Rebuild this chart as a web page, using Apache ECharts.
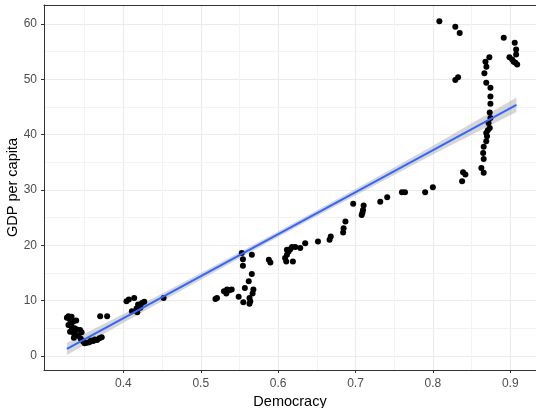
<!DOCTYPE html>
<html>
<head>
<meta charset="utf-8">
<script src="https://cdn.jsdelivr.net/npm/echarts@6/dist/echarts.min.js"></script>
<style>
  html, body { margin: 0; padding: 0; background: #fff; }
  #chart { width: 536px; height: 408px; }
</style>
</head>
<body>
<div id="chart"></div>
<script>
// Democracy index vs GDP per capita (one point per country-year)
const democracy = [
  0.327, 0.329, 0.333, 0.331, 0.335, 0.329, 0.333, 0.337, 0.331, 0.335,
  0.340, 0.344, 0.346, 0.338, 0.342, 0.336, 0.345, 0.348, 0.350, 0.353,
  0.356, 0.358, 0.361, 0.363, 0.366, 0.369, 0.372, 0.370, 0.379, 0.339,
  0.332, 0.336,
  0.404, 0.407, 0.414, 0.411, 0.417, 0.419, 0.424, 0.422, 0.427, 0.421, 0.418, 0.452,
  0.519, 0.521, 0.530, 0.534, 0.537, 0.540, 0.533, 0.549, 0.555, 0.563,
  0.564, 0.563, 0.557, 0.562, 0.566, 0.568, 0.567, 0.553, 0.566, 0.5545,
  0.5545, 0.588, 0.590,
  0.609, 0.6105, 0.6114, 0.6114, 0.6135, 0.6157, 0.6191, 0.6179, 0.6221, 0.6286,
  0.635, 0.6515, 0.6665, 0.668, 0.684, 0.6846, 0.687, 0.697,
  0.708, 0.7097, 0.7105, 0.709, 0.732, 0.741, 0.760, 0.764, 0.790, 0.800,
  0.8084, 0.829, 0.8347, 0.829, 0.8326, 0.839, 0.842, 0.8378,
  0.873, 0.868, 0.8692, 0.8666, 0.869, 0.8744, 0.8744, 0.8744, 0.8735, 0.8744,
  0.872, 0.8735, 0.871, 0.869, 0.870, 0.869, 0.8657, 0.865, 0.8657, 0.8627, 0.8657,
  0.8916, 0.9058, 0.9076, 0.9076, 0.899, 0.9025, 0.9045, 0.9067, 0.909
];
const gdpPerCapita = [
  6.9, 7.2, 7.1, 6.6, 6.2, 5.6, 5.3, 5.0, 4.4, 4.6,
  4.8, 4.7, 4.3, 3.9, 3.6, 3.3, 3.1, 2.6, 2.3, 2.4,
  2.5, 2.8, 2.7, 3.0, 2.9, 3.2, 3.4, 7.2, 7.2, 6.4,
  5.9, 4.1,
  9.9, 10.2, 10.5, 8.1, 8.6, 9.3, 9.6, 8.7, 9.8, 9.1, 7.9, 10.5,
  10.3, 10.5, 11.7, 12.0, 11.9, 12.0, 11.3, 10.7, 9.7, 10.5,
  9.9, 9.45, 12.3, 13.5, 14.8, 12.0, 11.3, 18.6, 18.3, 17.5,
  16.3, 17.4, 16.9,
  17.7, 17.1, 18.3, 19.2, 18.9, 19.3, 17.1, 19.7, 19.7, 19.5,
  20.4, 20.7, 21.0, 21.6, 22.3, 23.1, 24.3, 27.5,
  25.5, 26.4, 27.2, 25.9, 27.9, 28.7, 29.6, 29.6, 29.6, 30.5,
  60.5, 59.5, 58.4, 49.9, 50.4, 33.2, 32.8, 31.6,
  54.0, 53.2, 52.3, 51.1, 49.4, 48.5, 46.9, 45.6, 44.0, 43.0,
  42.1, 41.2, 40.8, 40.3, 39.7, 38.8, 37.8, 36.7, 35.6, 34.0, 33.1,
  57.5, 56.6, 55.4, 54.5, 54.0, 53.6, 53.2, 53.0, 52.7
];

// Linear fit and its 95% confidence band
const fitX = [0.327, 0.908];
const fitY = [1.3, 45.4];
const bandX = [0.327, 0.4, 0.5, 0.6, 0.7, 0.8, 0.908];
const bandLow = [0.2, 6.0, 13.8, 21.5, 29.0, 36.4, 44.1];
const bandHigh = [2.4, 7.6, 15.0, 22.5, 30.2, 38.0, 46.7];

// Tick values
const xMajorTicks = [0.4, 0.5, 0.6, 0.7, 0.8, 0.9];
const xMinorTicks = [0.35, 0.45, 0.55, 0.65, 0.75, 0.85];
const yMajorTicks = [0, 10, 20, 30, 40, 50, 60];
const yMinorTicks = [5, 15, 25, 35, 45, 55];

const X_MIN = 0.2974, X_MAX = 0.9333;
const Y_MIN = -2.53, Y_MAX = 63.44;

const points = democracy.map((d, i) => [d, gdpPerCapita[i]]);
const fitLine = fitX.map((x, i) => [x, fitY[i]]);

const minorLines = xMinorTicks.map(v => ({ xAxis: v }))
  .concat(yMinorTicks.map(v => ({ yAxis: v })));

const labelFont = { color: '#4d4d4d', fontSize: 12, fontFamily: 'Liberation Sans' };
const titleFont = { color: '#000', fontSize: 14.5, fontFamily: 'Liberation Sans' };

const chart = echarts.init(document.getElementById('chart'), null, { renderer: 'canvas' });

chart.setOption({
  animation: false,
  backgroundColor: '#ffffff',
  grid: { left: 44, right: 0, top: 5, bottom: 38, containLabel: false, outerBoundsMode: 'none' },
  xAxis: [
    {
      type: 'value',
      min: X_MIN, max: X_MAX,
      name: 'Democracy',
      nameLocation: 'middle',
      nameGap: 22,
      nameTextStyle: titleFont,
      axisLine: { show: true, onZero: false, lineStyle: { color: '#333', width: 1 } },
      axisTick: { show: true, length: 3, customValues: xMajorTicks, lineStyle: { color: '#333' } },
      axisLabel: Object.assign({ margin: 8, customValues: xMajorTicks, formatter: v => v.toFixed(1) }, labelFont),
      splitLine: { show: true, lineStyle: { color: '#ebebeb', width: 1.2 } }
    },
    {
      type: 'value', position: 'top',
      min: X_MIN, max: X_MAX,
      axisLine: { show: true, onZero: false, lineStyle: { color: '#333', width: 1 } },
      axisTick: { show: false }, axisLabel: { show: false }, splitLine: { show: false }
    }
  ],
  yAxis: {
    type: 'value',
    min: Y_MIN, max: Y_MAX,
    name: 'GDP per capita',
    nameLocation: 'middle',
    nameGap: 24,
    nameMoveOverlap: false,
    nameTextStyle: titleFont,
    axisLine: { show: true, onZero: false, lineStyle: { color: '#333', width: 1 } },
    axisTick: { show: true, length: 3, customValues: yMajorTicks, lineStyle: { color: '#333' } },
    axisLabel: Object.assign({ margin: 7, customValues: yMajorTicks }, labelFont),
    splitLine: { show: true, lineStyle: { color: '#ebebeb', width: 1.2 } }
  },
  series: [
    {
      // minor grid lines
      type: 'line', data: [], z: 0, silent: true,
      markLine: {
        z: 0, silent: true, symbol: 'none', label: { show: false },
        lineStyle: { color: '#f3f3f3', width: 1, type: 'solid' },
        data: minorLines, animation: false
      }
    },
    {
      // confidence band
      type: 'custom', z: 2, silent: true,
      data: [[bandX[0], bandLow[0]]],
      renderItem: (params, api) => {
        const pts = [];
        for (let i = 0; i < bandX.length; i++) pts.push(api.coord([bandX[i], bandHigh[i]]));
        for (let i = bandX.length - 1; i >= 0; i--) pts.push(api.coord([bandX[i], bandLow[i]]));
        return { type: 'polygon', shape: { points: pts }, style: { fill: 'rgba(153,153,153,0.4)' } };
      }
    },
    {
      type: 'scatter', data: points, z: 3,
      symbol: 'circle', symbolSize: 6,
      itemStyle: { color: '#000000', opacity: 1 }
    },
    {
      type: 'line', data: fitLine, z: 5, silent: true,
      showSymbol: false, symbol: 'none',
      lineStyle: { color: '#3366FF', width: 2 }
    }
  ]
});
</script>
</body>
</html>
